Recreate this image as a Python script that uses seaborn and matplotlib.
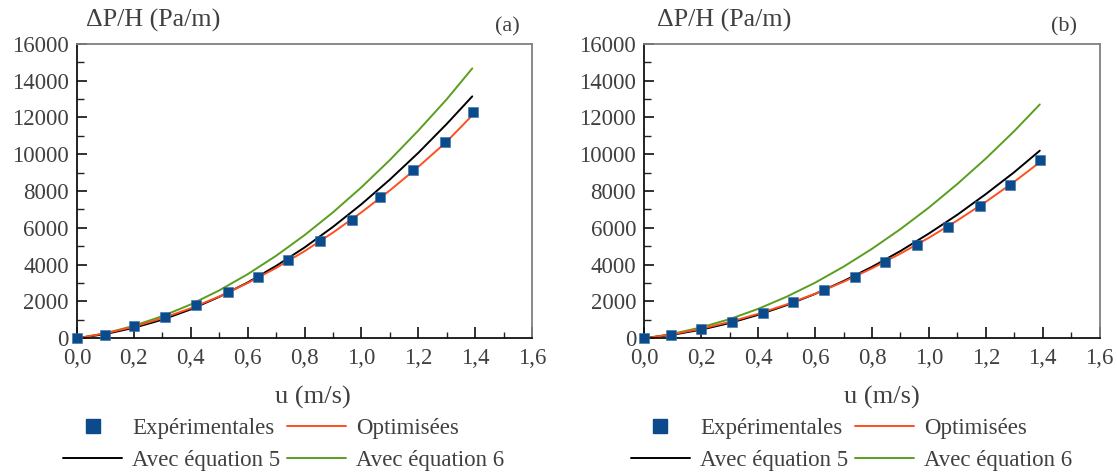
import numpy as np
import pandas as pd
import matplotlib
matplotlib.use("Agg")
import matplotlib.pyplot as plt
import seaborn as sns
from matplotlib.ticker import MultipleLocator, FuncFormatter
from matplotlib.lines import Line2D

# ---------------- data ----------------
# Panel (a)
exp_u_a = [0.0, 0.10, 0.20, 0.31, 0.42, 0.53, 0.635, 0.743, 0.855, 0.966, 1.065, 1.18, 1.294, 1.392]
exp_y_a = [0, 200, 650, 1150, 1790, 2540, 3340, 4270, 5260, 6420, 7650, 9140, 10660, 12290]

curve_u = [0.0, 0.1, 0.2, 0.3, 0.4, 0.5, 0.6, 0.7, 0.8, 0.9, 1.0, 1.1, 1.2, 1.3, 1.39]
opt_a  = [0, 270, 630, 1090, 1630, 2270, 3000, 3820, 4730, 5740, 6840, 8030, 9310, 10680, 12110]
eq5_a  = [0, 230, 570, 1010, 1570, 2250, 3030, 3930, 4930, 6050, 7280, 8620, 10070, 11640, 13140]
eq6_a  = [0, 270, 680, 1200, 1840, 2600, 3480, 4480, 5600, 6840, 8200, 9680, 11280, 12980, 14660]

# Panel (b)
exp_u_b = [0.0, 0.094, 0.197, 0.309, 0.415, 0.522, 0.63, 0.739, 0.847, 0.958, 1.066, 1.181, 1.284, 1.392]
exp_y_b = [0, 160, 510, 890, 1390, 1990, 2610, 3350, 4150, 5070, 6030, 7190, 8330, 9700]

opt_b  = [0, 225, 520, 890, 1330, 1840, 2420, 3070, 3800, 4600, 5460, 6400, 7410, 8500, 9560]
eq5_b  = [0, 195, 470, 830, 1275, 1800, 2410, 3110, 3880, 4740, 5690, 6710, 7830, 9020, 10190]
eq6_b  = [0, 245, 595, 1045, 1600, 2260, 3020, 3890, 4860, 5930, 7100, 8380, 9760, 11250, 12700]

panel_labels = ["(a)", "(b)"]
legend_labels = ["Expérimentales", "Avec équation 5", "Optimisées", "Avec équation 6"]
ylabel_text = "ΔP/H (Pa/m)"
xlabel_text = "u (m/s)"

# ---------------- style ----------------
sns.set_style("white")
SERIF = ['Liberation Serif', 'DejaVu Serif']
plt.rcParams['font.family'] = SERIF
plt.rcParams['font.serif'] = SERIF
TXT = "#404040"
C_EXP = "#0b4a8b"
C_OPT = "#ff4f1f"
C_EQ5 = "#000000"
C_EQ6 = "#5a9e1e"
FS = 16.5

fig = plt.figure(figsize=(11.17, 4.74), dpi=100)
W, H = 1117, 474
boxes = [(77.0, 532.0), (644.5, 1099.5)]
top_px, bot_px = 43.7, 338.3
ylab_x = [0.020, 0.027]
plab_x = [0.945, 0.923]
xlab_x = [0.519, 0.522]

panels = [
    (exp_u_a, exp_y_a, opt_a, eq5_a, eq6_a),
    (exp_u_b, exp_y_b, opt_b, eq5_b, eq6_b),
]

comma = FuncFormatter(lambda v, p: f"{v:.1f}".replace(".", ","))
plain = FuncFormatter(lambda v, p: f"{int(round(v))}")

for i, ((l, r), (eu, ey, op, e5, e6)) in enumerate(zip(boxes, panels)):
    ax = fig.add_axes([l / W, 1 - bot_px / H, (r - l) / W, (bot_px - top_px) / H])
    dfc = pd.DataFrame({"u": curve_u, "opt": op, "eq5": e5, "eq6": e6})
    sns.lineplot(data=dfc, x="u", y="eq6", ax=ax, color=C_EQ6, lw=1.4)
    sns.lineplot(data=dfc, x="u", y="eq5", ax=ax, color=C_EQ5, lw=1.4)
    sns.lineplot(data=dfc, x="u", y="opt", ax=ax, color=C_OPT, lw=1.4)
    dfe = pd.DataFrame({"u": eu, "y": ey})
    sns.scatterplot(data=dfe, x="u", y="y", ax=ax, marker="s", s=62,
                    color=C_EXP, edgecolor="#3a6fa8", linewidth=0.4, zorder=5, clip_on=False)

    ax.set_xlim(0, 1.6)
    ax.set_ylim(0, 16000)
    ax.xaxis.set_major_locator(MultipleLocator(0.2))
    ax.xaxis.set_minor_locator(MultipleLocator(0.1))
    ax.yaxis.set_major_locator(MultipleLocator(2000))
    ax.yaxis.set_minor_locator(MultipleLocator(1000))
    ax.xaxis.set_major_formatter(comma)
    ax.yaxis.set_major_formatter(plain)
    ax.set_xlabel("")
    ax.set_ylabel("")
    ax.tick_params(axis="x", which="major", direction="in", length=8, width=1.3,
                   color="#222222", labelsize=FS, labelcolor=TXT, pad=7, bottom=True)
    ax.tick_params(axis="x", which="minor", direction="in", length=4, width=1.0,
                   color="#222222", bottom=True)
    ax.tick_params(axis="y", which="major", direction="in", length=7, width=1.3,
                   color="#222222", labelsize=FS, labelcolor=TXT, pad=6, left=True)
    ax.tick_params(axis="y", which="minor", direction="in", length=5, width=1.0,
                   color="#222222", left=True)
    for lab in ax.get_xticklabels() + ax.get_yticklabels():
        lab.set_fontfamily(SERIF)
    for s in ["left", "bottom"]:
        ax.spines[s].set_color("#111111")
        ax.spines[s].set_linewidth(1.3)
    for s in ["top", "right"]:
        ax.spines[s].set_color("#808080")
        ax.spines[s].set_linewidth(1.3)
        ax.spines[s].set_visible(True)

    ax.text(ylab_x[i], 1.08, ylabel_text, transform=ax.transAxes,
            ha="left", va="center", fontsize=18.7, color=TXT, family=SERIF)
    ax.text(plab_x[i], 1.057, panel_labels[i], transform=ax.transAxes,
            ha="center", va="center", fontsize=16, color=TXT, family=SERIF)
    ax.text(xlab_x[i], -0.2007, xlabel_text, transform=ax.transAxes,
            ha="center", va="center", fontsize=19, color=TXT, family=SERIF)

    handles = [
        Line2D([], [], ls="none", marker="s", ms=9.5, color=C_EXP),
        Line2D([], [], color=C_EQ5, lw=1.4),
        Line2D([], [], color=C_OPT, lw=1.4),
        Line2D([], [], color=C_EQ6, lw=1.4),
    ]
    leg = ax.legend(handles, legend_labels, ncol=2, loc="upper left",
                    bbox_to_anchor=(-0.03, -0.271), frameon=False,
                    prop={"family": SERIF, "size": FS},
                    handlelength=2.58, handletextpad=0.43, columnspacing=0.3,
                    labelspacing=0.45, borderpad=0, borderaxespad=0)
    for t in leg.get_texts():
        t.set_color(TXT)

fig.savefig("out.png", dpi=100)
